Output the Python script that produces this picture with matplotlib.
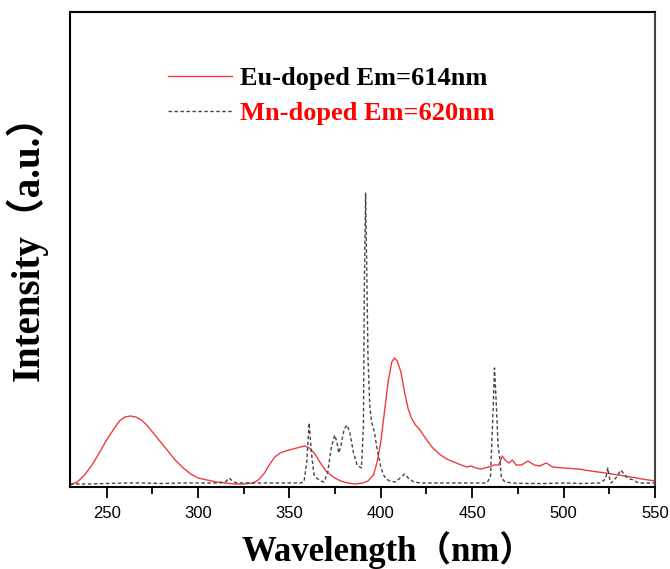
import matplotlib
matplotlib.use("Agg")
import matplotlib.pyplot as plt
from matplotlib.ticker import MultipleLocator

eu_wl = [230, 234, 238, 242, 246, 250, 254, 257, 260, 263, 266, 269, 272, 276, 280, 284, 288, 292, 296, 300,
         305, 310, 315, 320, 325, 330, 333, 336, 339, 342, 345, 348, 352, 356, 358.5, 361, 364, 367, 370, 374,
         378, 382, 386, 390, 393, 396, 398, 400, 402, 404, 406, 407.5, 409, 411, 413, 415, 417, 419, 421, 424,
         428, 432, 436, 440, 444, 447, 449.5, 452, 455, 459, 462, 464.5, 466.5, 468, 470, 472, 474, 477, 480.5,
         484, 487, 490.5, 494, 500, 508, 515, 523, 530, 537, 543, 550]
eu_int = [2, 5, 12, 22, 34, 47, 58, 66, 70, 71, 70, 67, 62, 53, 44, 35, 26, 19, 13, 9,
          7, 5, 4, 3, 3, 4, 7, 13, 22, 30, 34, 36, 38, 40, 41, 39, 33, 24, 16, 10,
          6, 4, 3, 4, 6, 12, 25, 45, 75, 105, 125, 129, 126, 115, 95, 78, 68, 62, 58, 50,
          40, 33, 28, 25, 22, 20, 21, 19, 18, 20, 22, 22, 31, 27, 24, 27, 22, 22, 26,
          22, 21, 24, 20, 19, 18, 16, 14, 12, 10, 8, 6]

mn_wl = [230, 240, 250, 260, 270, 280, 290, 300, 310, 315, 317, 319, 321, 330, 340, 350, 356, 358, 359.5, 360.8,
         362, 363.5, 365, 367, 369, 371, 373, 374.8, 376, 377, 378, 380, 381.5, 383, 385, 387, 389.4, 390.5, 391,
         391.7, 392.3, 393, 394, 395, 396.5, 398, 400, 401.5, 403, 405, 408, 410, 413, 415, 418, 422, 430, 440,
         450, 458, 460, 461.5, 462.2, 463, 464.2, 465, 466, 468, 472, 480, 490, 500, 510, 520, 523, 524.2, 525.2,
         526, 529, 531.4, 533, 535, 538, 541, 545, 550]
mn_int = [3, 3, 3.5, 4, 4, 3.5, 4, 4, 4, 5, 9, 6, 4, 4, 4, 4, 4, 5, 25, 64,
          35, 12, 9, 6, 5, 15, 40, 52, 45, 34, 40, 58, 62, 55, 35, 22, 19, 60, 200,
          294, 220, 130, 80, 65, 55, 38, 20, 12, 8, 6, 5, 8, 13, 9, 5, 4, 4, 4,
          4, 4, 10, 80, 119, 90, 40, 30, 9, 5, 4, 3.5, 3.5, 4, 3.5, 4, 8, 19, 8,
          4, 10, 17, 13, 9, 7, 4, 4, 4]

labels = ["Eu-doped Em=614nm", "Mn-doped Em=620nm"]
xlabel = "Wavelength\uff08nm\uff09"
ylabel = "Intensity\uff08a.u.\uff09"
serif = ["Liberation Serif", "Noto Sans CJK SC"]

fig = plt.figure(figsize=(6.7, 5.69), dpi=100)
ax = fig.add_axes([70 / 670, 1 - 487 / 569, 585 / 670, 475 / 569])

ax.plot(eu_wl, eu_int, color="#f03c3c", lw=1.0, label=labels[0])
ax.plot(mn_wl, mn_int, color="#444444", lw=1.0, linestyle=(0, (2.5, 1.8)), label=labels[1])

ax.set_xlim(230, 550)
ax.set_ylim(0, 475)
ax.xaxis.set_major_locator(MultipleLocator(50))
ax.xaxis.set_minor_locator(MultipleLocator(25))
ax.tick_params(axis="x", which="major", direction="out", length=8, width=1.3, pad=6,
               labelsize=12)
ax.tick_params(axis="x", which="minor", direction="out", length=5, width=1.3)
ax.set_yticks([])
for lab in ax.get_xticklabels():
    lab.set_family("Liberation Sans")
for s in ax.spines.values():
    s.set_linewidth(1.5)
ax.spines["right"].set_color("#444444")

ax.set_xlabel(xlabel, family=serif, fontweight="bold", fontsize=25)
ax.xaxis.set_label_coords(0.544, -0.092, transform=ax.transAxes)
ax.xaxis.label.set_va("top")
ax.set_ylabel(ylabel, family=serif, fontweight="bold", fontsize=28)
ax.yaxis.set_label_coords(-0.0386, 0.523, transform=ax.transAxes)

leg = ax.legend(loc="upper left", bbox_to_anchor=(0.1675, 0.885), frameon=False,
                prop={"family": "Liberation Serif", "weight": "bold", "size": 19},
                handlelength=2.42, handletextpad=0.3, labelspacing=0.44, borderpad=0,
                borderaxespad=0, labelcolor=["black", "red"])

fig.savefig("out.png", dpi=100)
